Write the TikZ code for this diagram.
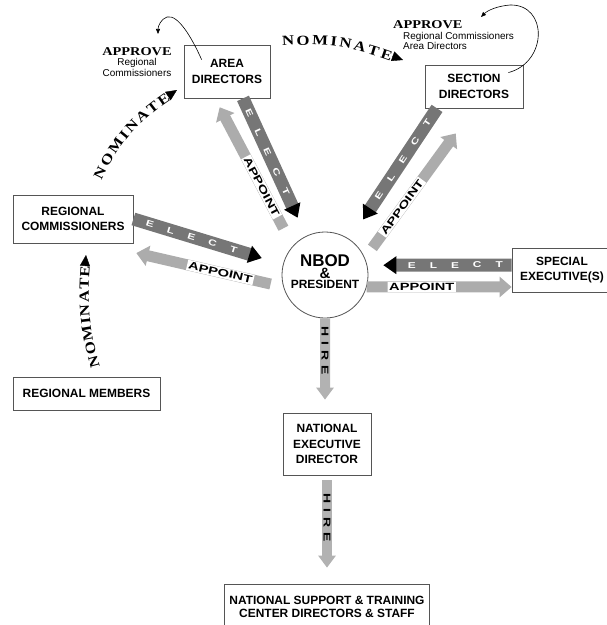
\documentclass[tikz,border=0pt]{standalone}
\usepackage{fontspec}
\setmainfont{Liberation Sans}
\newfontfamily\heavyserif[FakeStretch=1.2]{Liberation Serif}
\newfontfamily\widesans[FakeStretch=1.4]{Liberation Sans}
\usepackage{tikz}
\usetikzlibrary{arrows.meta, decorations.text}
\definecolor{electgray}{RGB}{118,118,118}
\definecolor{appointgray}{RGB}{172,172,172}
\definecolor{hiregray}{RGB}{178,178,178}
\definecolor{boxline}{RGB}{85,85,85}
\newcommand{\electword}{E\hspace{14bp}L\hspace{14bp}E\hspace{14bp}C\hspace{14bp}T}
\newcommand{\hireword}{H\hspace{5bp}I\hspace{5bp}R\hspace{5bp}E}

\begin{document}
\begin{tikzpicture}[x=1bp, y=-1bp,
    orgbox/.style={draw=boxline, line width=0.8bp, fill=white, align=center, inner sep=2bp, font=\bfseries\fontsize{12}{15.5}\selectfont},
    electband/.style={line width=13bp, draw=electgray, -{Triangle[length=13bp, width=17bp, color=black]}},
    appointband/.style={line width=11bp, draw=appointgray, -{Triangle[length=12bp, width=20bp]}},
    hireband/.style={line width=10bp, draw=hiregray, -{Triangle[length=12bp, width=17bp]}},
    electlabel/.style={sloped, pos=0.39, text=white, font=\widesans\bfseries\fontsize{8.5}{8.5}\selectfont},
    appointlabel/.style={sloped, fill=white, inner sep=1.5bp, font=\widesans\bfseries\fontsize{10.5}{10.5}\selectfont},
    hirelabel/.style={rotate=-90, font=\widesans\bfseries\fontsize{10}{10}\selectfont},
    nominate/.style={decorate, decoration={text along path, text align=fit to path, raise=-5bp,
        text={|\heavyserif\bfseries\fontsize{14}{14}\selectfont|NOMINATE}}},
    nomtip/.style={line width=0.4bp, -{Triangle[length=11bp, width=10bp]}},
    approvearrow/.style={line width=0.6bp, -{Triangle[length=5bp, width=4bp]}},
    approvetext/.style={font=\fontsize{10}{10.5}\selectfont}]
    \useasboundingbox (0,0) rectangle (607,625);

    % 节点
    \node[orgbox, minimum width=86bp, minimum height=53bp] (area) at (227,71.5) {AREA\\DIRECTORS};
    \node[orgbox, minimum width=98bp, minimum height=43bp] (section) at (474,86.5) {SECTION\\DIRECTORS};
    \node[orgbox, minimum width=120bp, minimum height=48bp] (regcom) at (73,219) {REGIONAL\\COMMISSIONERS};
    \node[orgbox, minimum width=147bp, minimum height=33bp] (regmem) at (86.5,393.5) {REGIONAL MEMBERS};
    \node[orgbox, minimum width=100bp, minimum height=44bp] (special) at (562,270) {SPECIAL\\EXECUTIVE(S)};
    \node[orgbox, minimum width=88bp, minimum height=62bp] (ned) at (327,444) {NATIONAL\\EXECUTIVE\\DIRECTOR};
    \node[orgbox, minimum width=205bp, minimum height=46bp, font=\bfseries\fontsize{12}{12.5}\selectfont] (nsupport) at (327,607)
        {NATIONAL SUPPORT \& TRAINING\\CENTER DIRECTORS \& STAFF};
    \node[circle, draw=boxline, line width=0.8bp, fill=white, minimum size=86bp, inner sep=0pt, align=center, text depth=7bp,
        font=\bfseries\fontsize{12}{13}\selectfont] (nbod) at (325,275)
        {\fontsize{17}{17}\selectfont NBOD\\[-1bp]\fontsize{15}{15}\selectfont\&\\[-3bp]\fontsize{12}{13}\selectfont PRESIDENT};

    % 选举
    \draw[electband, shorten >=20bp] ([xshift=16bp]area.south) -- (nbod.116) node[electlabel] {\electword};
    \draw[electband, shorten >=24bp] ([xshift=-37bp]section.south) -- (nbod.55) node[electlabel] {\electword};
    \draw[electband, shorten >=22bp] (regcom.east) -- (nbod.166.6) node[electlabel] {\electword};
    \draw[electband, shorten >=16bp] ([yshift=5bp]special.west) -- (nbod.13) node[electlabel] {\electword};

    % 任命
    \draw[appointband, shorten <=20bp, shorten >=10bp] (nbod.138) -- ([xshift=-12bp]area.south)
        node[appointlabel, pos=0.40] {APPOINT};
    \draw[appointband, shorten <=12.6bp, shorten >=31bp] (nbod.23) -- (section.south)
        node[appointlabel, pos=0.34] {APPOINT};
    \draw[appointband, shorten <=13bp, shorten >=3bp] (nbod.196) -- ([yshift=-9bp]regcom.south east)
        node[appointlabel, pos=0.42] {APPOINT};
    \draw[appointband] (nbod.-16) -- ([yshift=-17bp]special.west) node[appointlabel, pos=0.38] {APPOINT};

    % 雇用
    \draw[hireband, shorten >=13bp] (nbod.south) -- ([xshift=-2bp]ned.north) node[hirelabel, pos=0.34] {\hireword};
    \draw[hireband, shorten <=5bp, shorten >=16bp] (ned.south) -- (nsupport.north) node[hirelabel, pos=0.39] {\hireword};

    % 批准
    \node[approvetext, align=center] (apprA) at (137,62)
        {{\heavyserif\bfseries\fontsize{12}{12}\selectfont APPROVE}\\Regional\\Commissioners};
    \node[approvetext, align=left, anchor=west, inner sep=0pt] (apprB) at (393,35.5)
        {{\heavyserif\bfseries\fontsize{12}{12}\selectfont APPROVE}\\\hspace*{10bp}Regional Commissioners\\\hspace*{10bp}Area Directors};
    \coordinate (apprAin) at (158,34);
    \coordinate (apprBin) at (481,17);
    \draw[approvearrow] ([xshift=18bp, yshift=-15bp]area.north west) .. controls (192,38) and (178,14) .. (167,17)
        .. controls (161,19) and (158,26) .. (apprAin);
    \draw[approvearrow] ([xshift=-15bp, yshift=-8bp]section.north east) .. controls (548,62) and (548,4) .. (510,5)
        .. controls (498,6) and (488,10) .. (apprBin);

    % 提名
    \coordinate (nomAs) at (97,178);
    \coordinate (nomAe) at (168,96);
    \coordinate (nomAt) at (177,90);
    \coordinate (nomBs) at (282,41);
    \coordinate (nomBe) at (392,56);
    \coordinate (nomBt) at (403,60);
    \coordinate (nomCs) at (95,368);
    \coordinate (nomCe) at (85,266);
    \coordinate (nomCt) at (86,255);
    \path[nominate] (nomAs) to[bend left=15] (nomAe);
    \draw[nomtip] (nomAe) -- (nomAt);
    \path[nominate] (nomBs) to[bend left=12] (nomBe);
    \draw[nomtip] (nomBe) -- (nomBt);
    \path[nominate] (nomCs) to[bend left=10] (nomCe);
    \draw[nomtip] (nomCe) -- (nomCt);
\end{tikzpicture}
\end{document}
